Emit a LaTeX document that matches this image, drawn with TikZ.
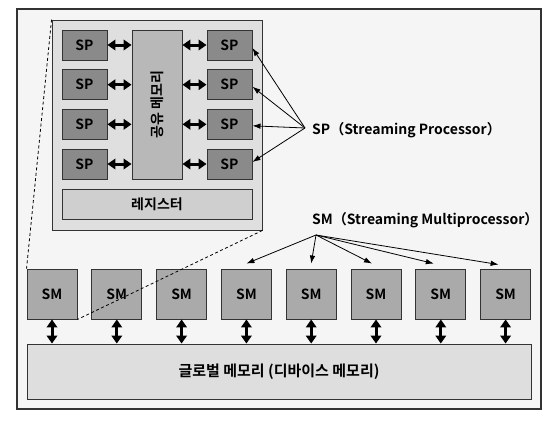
\documentclass[tikz,border=0pt]{standalone}
\usepackage{fontspec}
\setmainfont{Noto Sans CJK KR}[BoldFont={Noto Sans CJK KR Bold}]
\usetikzlibrary{arrows.meta,calc}
\definecolor{framebg}{HTML}{F5F5F5}
\definecolor{blockbg}{HTML}{DFDFDF}
\definecolor{spfill}{HTML}{8A8A8A}
\definecolor{shfill}{HTML}{B8B8B8}
\definecolor{regfill}{HTML}{CFCFCF}
\definecolor{smfill}{HTML}{AAAAAA}
\definecolor{glfill}{HTML}{DEDEDE}
\definecolor{edge}{HTML}{333333}
\tikzset{
  box/.style={draw=edge, line width=0.9pt, inner sep=0pt, font=\bfseries},
  spbox/.style={box, fill=spfill, minimum width=45pt, minimum height=30pt, font=\bfseries\fontsize{14}{14}\selectfont},
  smbox/.style={box, fill=smfill, minimum width=50pt, minimum height=50pt, font=\bfseries\fontsize{14}{14}\selectfont},
  dblarrow/.style={line width=3pt, {Triangle[length=8pt,width=10.5pt]}-{Triangle[length=8pt,width=10.5pt]}},
  ptr/.style={line width=0.8pt, -{Latex[length=8pt,width=5.5pt]}},
  lbl/.style={anchor=west, inner sep=0pt, font=\bfseries\fontsize{14}{14}\selectfont},
  dsh/.style={dashed, line width=0.8pt, dash pattern=on 3pt off 2.5pt}
}
\begin{document}
\begin{tikzpicture}[x=1pt,y=-1pt]
\useasboundingbox (0,0) rectangle (558,424);
% outer frame
\node[draw=edge, line width=1.4pt, fill=framebg, minimum width=524pt, minimum height=400pt, inner sep=0pt] (frame) at (279,209) {};
% SM block
\node[box, fill=blockbg, minimum width=210pt, minimum height=210pt] (blk) at (157,125) {};
% SPs
\foreach \i/\y in {1/45,2/84.7,3/124.3,4/164}{
  \node[spbox] (l\i) at (84.5,\y) {SP};
  \node[spbox] (r\i) at (229.5,\y) {SP};
}
\node[box, fill=shfill, minimum width=50pt, minimum height=149pt] (sh) at (157,104.5) {};
\node[rotate=90, font=\bfseries\fontsize{14}{14}\selectfont, inner sep=0pt] (shtext) at (sh.center) {공유 메모리};
\node[box, fill=regfill, minimum width=190pt, minimum height=30pt, font=\bfseries\fontsize{14}{14}\selectfont] (reg) at (157,204) {레지스터};
\foreach \i in {1,...,4}{
  \draw[dblarrow] (l\i) -- (l\i -| sh.west);
  \draw[dblarrow] (r\i) -- (r\i -| sh.east);
}
% SMs
\foreach \i in {1,...,8}{
  \node[smbox] (sm\i) at ({52+(\i-1)*64.8},294) {SM};
}
\node[box, fill=glfill, minimum width=504pt, minimum height=55pt, font=\bfseries\fontsize{15}{15}\selectfont] (gl) at (279,371.5) {글로벌 메모리 (디바이스 메모리)};
\foreach \i in {1,...,8}{
  \draw[dblarrow] (sm\i) -- (sm\i |- gl.north);
}
% dashed zoom lines
\draw[dsh] (blk.north west) -- (sm1.north west);
\draw[dsh] (blk.south east) -- (sm1.south east);
% SP label
\node[lbl] (splbl) at (312,130) {SP（Streaming Processor）};
\coordinate (spo) at (305,128);
\draw[ptr] (spo) -- ($(r1.east)+(0,3)$);
\draw[ptr] (spo) -- ($(r2.east)+(0,2)$);
\draw[ptr] (spo) -- ($(r3.east)+(0,1.5)$);
\draw[ptr] (spo) -- ($(r4.east)+(0,-2)$);
% SM label
\node[lbl] (smlbl) at (312,220) {SM（Streaming Multiprocessor）};
\coordinate (smo) at (316,235);
\draw[ptr] (smo) -- ($(sm4.north)+(0,-5)$);
\draw[ptr] (smo) -- ($(sm5.north)+(0,-5)$);
\draw[ptr] (smo) -- ($(sm6.north)+(-4,-5)$);
\draw[ptr] (smo) -- ($(sm7.north)+(-7,-5)$);
\draw[ptr] (smo) -- ($(sm8.north)+(-7,-4)$);
\end{tikzpicture}
\end{document}
